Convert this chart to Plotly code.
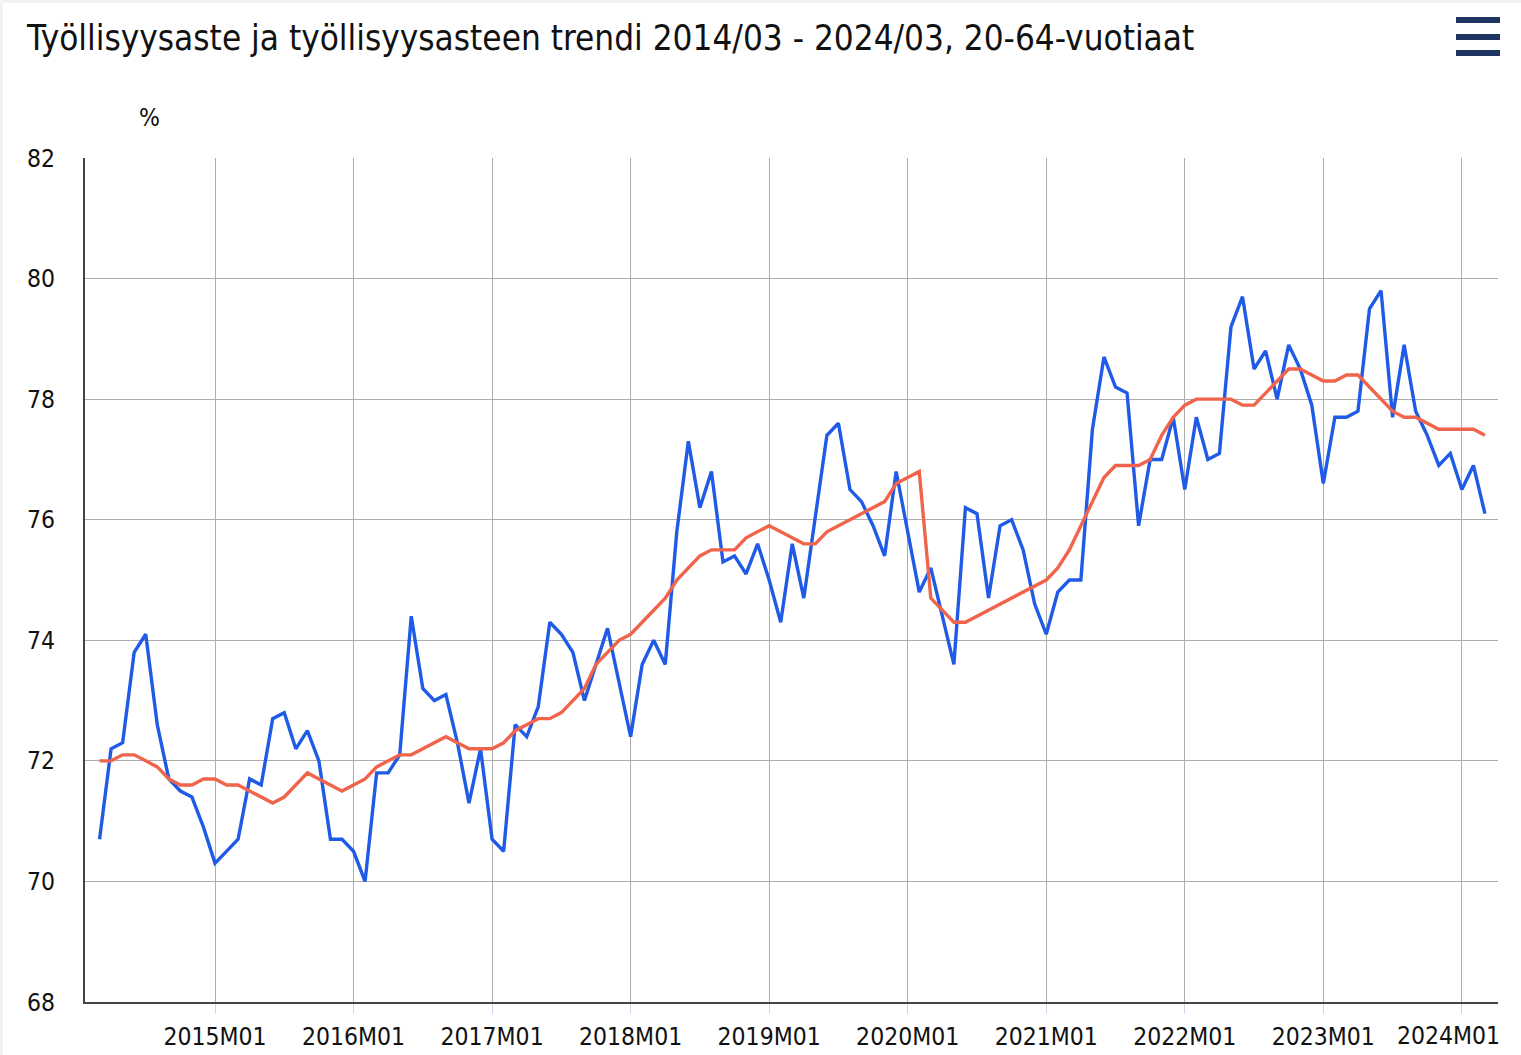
import plotly.graph_objects as go

# Month labels 2014M03 .. 2024M03
months = []
for y in range(2014, 2025):
    for m in range(1, 13):
        if (y == 2014 and m < 3) or (y == 2024 and m > 3):
            continue
        months.append(f"{y}M{m:02d}")

employment_rate = [
    70.7, 72.2, 72.3, 73.8, 74.1, 72.6, 71.7, 71.5, 71.4, 70.9,
    70.3, 70.5, 70.7, 71.7, 71.6, 72.7, 72.8, 72.2, 72.5, 72.0,
    70.7, 70.7, 70.5, 70.0, 71.8, 71.8, 72.1, 74.4, 73.2, 73.0,
    73.1, 72.3, 71.3, 72.2, 70.7, 70.5, 72.6, 72.4, 72.9, 74.3,
    74.1, 73.8, 73.0, 73.6, 74.2, 73.3, 72.4, 73.6, 74.0, 73.6,
    75.8, 77.3, 76.2, 76.8, 75.3, 75.4, 75.1, 75.6, 75.0, 74.3,
    75.6, 74.7, 76.1, 77.4, 77.6, 76.5, 76.3, 75.9, 75.4, 76.8,
    75.8, 74.8, 75.2, 74.4, 73.6, 76.2, 76.1, 74.7, 75.9, 76.0,
    75.5, 74.6, 74.1, 74.8, 75.0, 75.0, 77.5, 78.7, 78.2, 78.1,
    75.9, 77.0, 77.0, 77.7, 76.5, 77.7, 77.0, 77.1, 79.2, 79.7,
    78.5, 78.8, 78.0, 78.9, 78.5, 77.9, 76.6, 77.7, 77.7, 77.8,
    79.5, 79.8, 77.7, 78.9, 77.8, 77.4, 76.9, 77.1, 76.5, 76.9,
    76.1,
]

trend = [
    72.0, 72.0, 72.1, 72.1, 72.0, 71.9, 71.7, 71.6, 71.6, 71.7,
    71.7, 71.6, 71.6, 71.5, 71.4, 71.3, 71.4, 71.6, 71.8, 71.7,
    71.6, 71.5, 71.6, 71.7, 71.9, 72.0, 72.1, 72.1, 72.2, 72.3,
    72.4, 72.3, 72.2, 72.2, 72.2, 72.3, 72.5, 72.6, 72.7, 72.7,
    72.8, 73.0, 73.2, 73.6, 73.8, 74.0, 74.1, 74.3, 74.5, 74.7,
    75.0, 75.2, 75.4, 75.5, 75.5, 75.5, 75.7, 75.8, 75.9, 75.8,
    75.7, 75.6, 75.6, 75.8, 75.9, 76.0, 76.1, 76.2, 76.3, 76.6,
    76.7, 76.8, 74.7, 74.5, 74.3, 74.3, 74.4, 74.5, 74.6, 74.7,
    74.8, 74.9, 75.0, 75.2, 75.5, 75.9, 76.3, 76.7, 76.9, 76.9,
    76.9, 77.0, 77.4, 77.7, 77.9, 78.0, 78.0, 78.0, 78.0, 77.9,
    77.9, 78.1, 78.3, 78.5, 78.5, 78.4, 78.3, 78.3, 78.4, 78.4,
    78.2, 78.0, 77.8, 77.7, 77.7, 77.6, 77.5, 77.5, 77.5, 77.5,
    77.4,
]

tick_labels = ["2015M01", "2016M01", "2017M01", "2018M01", "2019M01",
               "2020M01", "2021M01", "2022M01", "2023M01", "2024M01"]

title_text = "Työllisyysaste ja työllisyysasteen trendi 2014/03 - 2024/03, 20-64-vuotiaat"

FONT = "DejaVu Sans Condensed, Liberation Sans Narrow, Roboto, sans-serif"

fig = go.Figure()
fig.add_trace(go.Scatter(
    x=months, y=employment_rate, mode="lines", name="Työllisyysaste",
    line=dict(color="#1f5be6", width=3.4), hoverinfo="x+y",
))
fig.add_trace(go.Scatter(
    x=months, y=trend, mode="lines", name="Trendi",
    line=dict(color="#f0644c", width=3.4), hoverinfo="x+y",
))

W, H = 1521, 1055
L, R, T, B = 85, 23, 158, 53
pw, ph = W - L - R, H - T - B

def px_x(x):
    return (x - L) / pw

def px_y(y):
    return (H - B - y) / ph

# The last label is pulled left to stay inside the chart, as in the reference
tick_text = tick_labels[:-1] + [""]

fig.update_layout(
    width=W, height=H,
    margin=dict(l=L, r=R, t=T, b=B, autoexpand=False),
    paper_bgcolor="white", plot_bgcolor="white",
    showlegend=False,
    font=dict(family=FONT, color="#111111"),
    title=dict(text=title_text, x=27 / W, xanchor="left", y=1 - 38 / H, yanchor="middle",
               font=dict(size=34.8, color="#111111", family=FONT)),
    xaxis=dict(
        type="category", range=[-1.26, 121.13], automargin=False,
        tickmode="array", tickvals=tick_labels, ticktext=tick_text,
        showgrid=True, gridcolor="#adadad", gridwidth=1,
        showline=True, linecolor="#444444", linewidth=2,
        ticks="outside", ticklen=10, tickcolor="#ccd6eb", tickwidth=1,
        ticklabelstandoff=2,
        tickfont=dict(size=24.5, color="#111111", family=FONT),
        zeroline=False, fixedrange=True,
    ),
    yaxis=dict(
        range=[68, 82], dtick=2, tick0=68, automargin=False,
        showgrid=True, gridcolor="#adadad", gridwidth=1,
        showline=True, linecolor="#444444", linewidth=2,
        ticks="", ticklabelstandoff=23,
        tickfont=dict(size=24.5, color="#111111", family=FONT),
        zeroline=False, fixedrange=True,
    ),
    annotations=[
        dict(
            text="%", xref="paper", yref="paper", x=px_x(149), y=px_y(118),
            xanchor="center", yanchor="middle", showarrow=False,
            font=dict(size=24.5, color="#111111", family=FONT),
        ),
        dict(
            text=tick_labels[-1], xref="x", yref="paper", x=tick_labels[-1], y=0,
            xanchor="center", yanchor="middle", xshift=-13, yshift=-33,
            showarrow=False,
            font=dict(size=24.5, color="#111111", family=FONT),
        ),
    ],
)

# hamburger menu icon
for yy in (20, 37, 53):
    fig.add_shape(type="line", xref="paper", yref="paper",
                  x0=px_x(1456), x1=px_x(1500), y0=px_y(yy), y1=px_y(yy),
                  line=dict(color="#1f3560", width=6))

# thin light-grey frame at top/left like the reference page
fig.add_shape(type="rect", xref="paper", yref="paper",
              x0=px_x(0), x1=px_x(W), y0=px_y(0), y1=px_y(3),
              line=dict(width=0), fillcolor="#f2f2f2", layer="below")
fig.add_shape(type="rect", xref="paper", yref="paper",
              x0=px_x(0), x1=px_x(3), y0=px_y(0), y1=px_y(H),
              line=dict(width=0), fillcolor="#f2f2f2", layer="below")

fig.write_html(
    "out.html",
    config={"displayModeBar": False},
    post_script="document.body.style.margin='0';document.body.style.overflow='hidden';",
)
